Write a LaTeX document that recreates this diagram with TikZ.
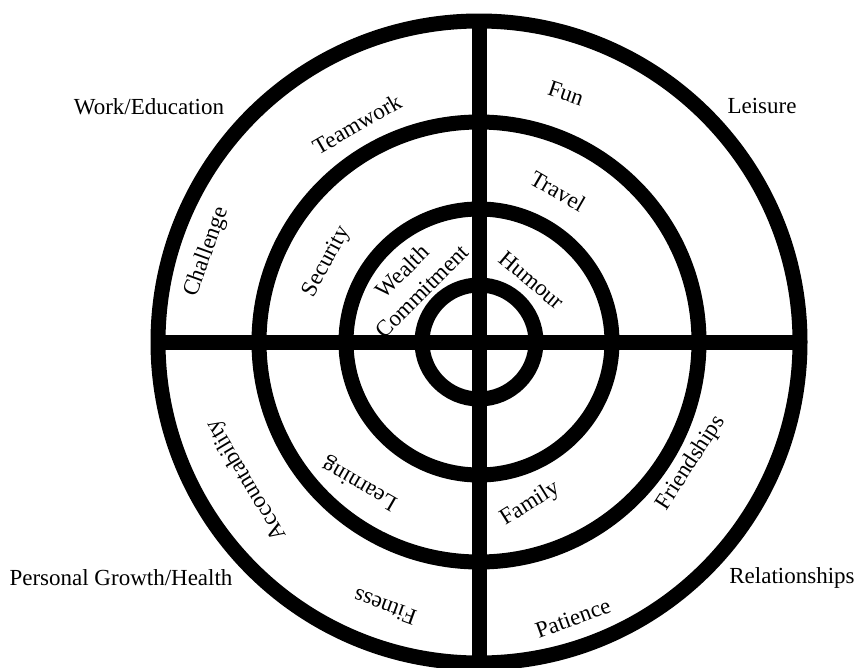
\documentclass[tikz,border=0pt]{standalone}
\usepackage{fontspec}
\setmainfont{Liberation Serif}
\usetikzlibrary{calc}
\tikzset{
  ring/.style={draw=black, line width=15pt},
  spoke/.style={draw=black, line width=15pt},
  area/.style={font=\fontsize{23}{27}\selectfont, inner sep=0pt},
  value/.style={font=\fontsize{23}{28}\selectfont, inner sep=0pt, align=center}
}
\begin{document}
\begin{tikzpicture}[x=1pt, y=-1pt]
  \useasboundingbox (0,0) rectangle (857,667);
  \coordinate (hub) at (479,342);
  % rings
  \foreach \r in {321,220,133,57}
    \draw[ring] (hub) circle[radius=\r];
  % spokes
  \draw[spoke] ($(hub)+(0,-321)$) -- ($(hub)+(0,321)$);
  \draw[spoke] ($(hub)+(-321,0)$) -- ($(hub)+(321,0)$);
  % areas
  \node[area] (work) at (149,107) {Work/Education};
  \node[area] (leisure) at (762,106) {Leisure};
  \node[area] (growth) at (121,578) {Personal Growth/Health};
  \node[area] (relations) at (792,578) {Relationships};
  % values, upper left
  \node[value, rotate=30] (teamwork) at (357,124) {Teamwork};
  \node[value, rotate=70] (challenge) at (207,252) {Challenge};
  \node[value, rotate=62] (security) at (327,262) {Security};
  \node[value, rotate=45] (wealth) at (412,281) {Wealth\\Commitment};
  % values, upper right
  \node[value, rotate=-19] (fun) at (566,93) {Fun};
  \node[value, rotate=-30] (travel) at (558,191) {Travel};
  \node[value, rotate=-40] (humour) at (532,280) {Humour};
  % values, lower left
  \node[value, rotate=121] (account) at (247,480) {Accountability};
  \node[value, rotate=150] (learning) at (360,483) {Learning};
  \node[value, rotate=160] (fitness) at (385,607) {Fitness};
  % values, lower right
  \node[value, rotate=57] (friends) at (691,463) {Friendships};
  \node[value, rotate=32] (family) at (530,504) {Family};
  \node[value, rotate=20] (patience) at (573,618) {Patience};
\end{tikzpicture}
\end{document}
